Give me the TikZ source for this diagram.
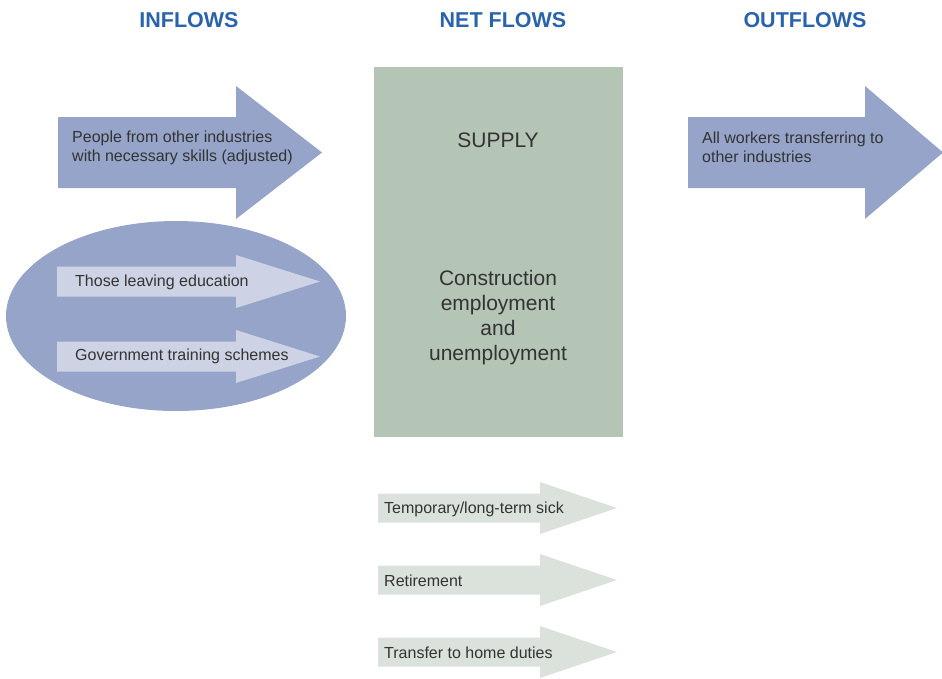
\documentclass[tikz,border=0pt]{standalone}
\usepackage{fontspec}
\setmainfont{Liberation Sans}
\usetikzlibrary{positioning}
\definecolor{headblue}{HTML}{2A63AD}
\definecolor{arrowblue}{HTML}{95A4C8}
\definecolor{lightblue}{HTML}{CDD3E4}
\definecolor{boxgreen}{HTML}{B5C5B5}
\definecolor{lightgreen}{HTML}{DBE2DB}
\definecolor{txt}{HTML}{333333}
\newcommand{\fatarrow}[7]{% colour, x0, xhead, xtip, ymid, half body, half head
  \fill[#1] (#2,#5-#6) -- (#3,#5-#6) -- (#3,#5-#7) -- (#4,#5) -- (#3,#5+#7) -- (#3,#5+#6) -- (#2,#5+#6) -- cycle;}
\tikzset{
  header/.style={text=headblue, font=\fontsize{21.5}{24}\selectfont\bfseries, inner sep=0pt},
  label/.style={text=txt, font=\fontsize{16}{19}\selectfont, inner sep=0pt, anchor=west, align=left},
  boxtext/.style={text=txt, font=\fontsize{21}{25}\selectfont, inner sep=0pt, align=center},
}
\begin{document}
\begin{tikzpicture}[x=1pt,y=-1pt]
\useasboundingbox (0,0) rectangle (942,678);
% headers
\node[header] (hin) at (189,20) {INFLOWS};
\node[header] (hnet) at (503,20) {NET FLOWS};
\node[header] (hout) at (805,20) {OUTFLOWS};
% top-left arrow
\fatarrow{arrowblue}{58}{236}{322}{152.5}{35.5}{66.5}
\node[label] (people) at (72,147.5) {People from other industries\\with necessary skills (adjusted)};
% ellipse
\fill[arrowblue] (176,316) ellipse [x radius=170, y radius=95];
\fatarrow{lightblue}{57}{236}{320}{281.5}{15}{26.5}
\node[label] (educ) at (75,282.5) {Those leaving education};
\fatarrow{lightblue}{57}{236}{320}{356.5}{15}{26.5}
\node[label] (gov) at (75,356.5) {Government training schemes};
% green box
\fill[boxgreen] (374,67) rectangle (623,437);
\node[boxtext] (supply) at (498,140) {SUPPLY};
\node[boxtext] (constr) at (498,318) {Construction\\employment\\and\\unemployment};
% bottom arrows
\fatarrow{lightgreen}{378}{540}{617}{508}{14.5}{26}
\node[label] (sick) at (384,509) {Temporary/long-term sick};
\fatarrow{lightgreen}{378}{540}{617}{580}{14.5}{26}
\node[label] (retire) at (384,581) {Retirement};
\fatarrow{lightgreen}{378}{540}{617}{652}{14.5}{26}
\node[label] (home) at (384,653) {Transfer to home duties};
% right arrow
\fatarrow{arrowblue}{688}{865}{943}{152.5}{35.5}{66.5}
\node[label] (workers) at (702,147.5) {All workers transferring to\\other industries};
\end{tikzpicture}
\end{document}
